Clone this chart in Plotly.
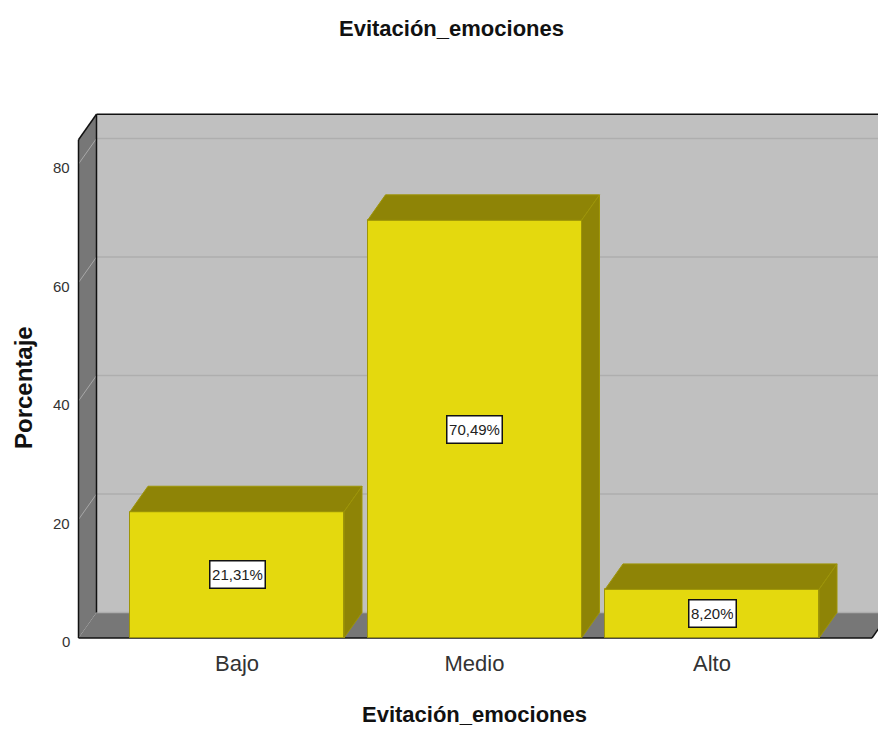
import plotly.graph_objects as go

# Chart content
categories = ["Bajo", "Medio", "Alto"]
percentages = [21.31, 70.49, 8.20]
value_labels = ["21,31%", "70,49%", "8,20%"]
y_ticks = [0, 20, 40, 60, 80]
chart_title = "Evitación_emociones"
x_title = "Evitación_emociones"
y_title = "Porcentaje"

# Colours
BAR_FRONT = "#E4D90E"
BAR_SHADE = "#8E8406"
BAR_EDGE = "#9E9508"
WALL_BACK = "#C0C0C0"
WALL_DARK = "#777777"
GRID_BACK = "#AEAEAE"
GRID_SIDE = "#A8A8A8"
INK = "#111111"
FONT = "Liberation Sans"

# Frame geometry, in pixels of the page
W, H = 878, 729
LEFT, TOP, BOTTOM = 77, 112, 640
ZERO_PX, UNIT_PX = 638, 5.925        # y = 0 baseline and pixels per percent
CENTER_PX, STEP_PX = 237, 237.5      # first category centre and category spacing
AXIS_LEFT_PX = 78.5

x_range = [(LEFT - CENTER_PX) / STEP_PX, (W - CENTER_PX) / STEP_PX]
y_range = [(ZERO_PX - BOTTOM) / UNIT_PX, (ZERO_PX - TOP) / UNIT_PX]

# Depth of the box and of the bars, in axis units
DX, DY = 18 / STEP_PX, 25.5 / UNIT_PX
BAR_WIDTH = 214 / STEP_PX
WALL_X0 = (AXIS_LEFT_PX - CENTER_PX) / STEP_PX
WALL_TOP = 88.4
WALL_X1 = (872 - CENTER_PX) / STEP_PX


def polygon(points, fill, line=None, width=0):
    path = "M " + " L ".join(f"{x},{y}" for x, y in points) + " Z"
    return dict(type="path", path=path, xref="x", yref="y", layer="below",
                fillcolor=fill, line=dict(color=line or fill, width=width))


def segment(x0, y0, x1, y1, color, width=1.0):
    return dict(type="line", x0=x0, y0=y0, x1=x1, y1=y1, xref="x", yref="y",
                layer="below", line=dict(color=color, width=width))


shapes = [
    # back wall, left wall, floor
    polygon([(WALL_X0 + DX, DY), (x_range[1] + 1, DY), (x_range[1] + 1, WALL_TOP),
             (WALL_X0 + DX, WALL_TOP)], WALL_BACK),
    polygon([(WALL_X0, 0), (WALL_X0 + DX, DY), (WALL_X0 + DX, WALL_TOP),
             (WALL_X0, WALL_TOP - DY)], WALL_DARK),
    polygon([(WALL_X0, 0), (WALL_X1, 0), (WALL_X1 + DX, DY), (x_range[1] + 1, DY),
             (WALL_X0 + DX, DY)], WALL_DARK),
]

# Gridlines run along the back wall and slope down the left wall
for tick in y_ticks:
    if tick:
        shapes.append(segment(WALL_X0 + DX, tick + DY, x_range[1] + 1, tick + DY, GRID_BACK, 1.5))
        shapes.append(segment(WALL_X0, tick, WALL_X0 + DX, tick + DY, GRID_SIDE, 1))
shapes.append(segment(WALL_X0 + DX, DY, x_range[1] + 1, DY, GRID_BACK, 1.5))

# Box outline
shapes += [
    segment(WALL_X0, 0, WALL_X1, 0, INK, 1.5),
    segment(WALL_X1, 0, WALL_X1 + DX, DY, INK, 1.5),
    segment(WALL_X0, 0, WALL_X0, WALL_TOP - DY, INK, 1.5),
    segment(WALL_X0 + DX, DY, WALL_X0 + DX, WALL_TOP, INK, 1.5),
    segment(WALL_X0, WALL_TOP - DY, WALL_X0 + DX, WALL_TOP, INK, 1.5),
    segment(WALL_X0 + DX, WALL_TOP, x_range[1] + 1, WALL_TOP, INK, 1.5),
]

fig = go.Figure()
positions = list(range(len(categories)))

# Front faces of the bars
fig.add_trace(go.Bar(
    x=positions, y=percentages, width=BAR_WIDTH,
    marker=dict(color=BAR_FRONT, line=dict(color=BAR_EDGE, width=1)),
    hoverinfo="skip", showlegend=False,
))

# Top and side faces of the bars, offset from each value by the depth
for pos, value in zip(positions, percentages):
    left, right = pos - BAR_WIDTH / 2, pos + BAR_WIDTH / 2
    fig.add_trace(go.Scatter(
        x=[left, right, right + DX, left + DX, left],
        y=[value, value, value + DY, value + DY, value],
        mode="lines", fill="toself", fillcolor=BAR_SHADE,
        line=dict(color=BAR_EDGE, width=1), hoverinfo="skip", showlegend=False,
    ))
    fig.add_trace(go.Scatter(
        x=[right, right + DX, right + DX, right, right],
        y=[0, DY, value + DY, value, 0],
        mode="lines", fill="toself", fillcolor=BAR_SHADE,
        line=dict(color=BAR_EDGE, width=1), hoverinfo="skip", showlegend=False,
    ))

# Value boxes sit halfway up each bar
annotations = [
    dict(x=pos, y=value / 2, xref="x", yref="y", text=label, showarrow=False,
         width=len(label) * 8.5, height=23, align="center", valign="middle",
         bgcolor="white", bordercolor="#111111", borderwidth=1.5, borderpad=1.5,
         font=dict(family=FONT, size=15, color="#222222"))
    for pos, value, label in zip(positions, percentages, value_labels)
]

# Y tick labels hang slightly below their gridline height
annotations += [
    dict(x=0, y=tick, xref="paper", yref="y", text=str(tick), showarrow=False,
         xanchor="right", yanchor="middle", xshift=-5, yshift=-3.5,
         font=dict(family=FONT, size=15, color="#333333"))
    for tick in y_ticks
]


def to_plot(px, py):
    """Page pixels to plot-area fractions."""
    return (px - LEFT) / (W - LEFT), (BOTTOM - py) / (BOTTOM - TOP)


tx, ty = to_plot(474, 714)
annotations.append(dict(x=tx, y=ty, xref="paper", yref="paper", text=f"<b>{x_title}</b>",
                        showarrow=False, font=dict(family=FONT, size=22, color="#111111"),
                        xanchor="center", yanchor="middle"))
tx, ty = to_plot(23, 388)
annotations.append(dict(x=tx, y=ty, xref="paper", yref="paper", text=f"<b>{y_title}</b>",
                        textangle=-90, showarrow=False,
                        font=dict(family=FONT, size=24, color="#111111"),
                        xanchor="center", yanchor="middle"))

fig.update_layout(
    width=W, height=H, autosize=False,
    margin=dict(l=LEFT, r=0, t=TOP, b=H - BOTTOM, pad=0),
    paper_bgcolor="white", plot_bgcolor="white",
    title=dict(text=f"<b>{chart_title}</b>", x=451.5 / W, y=1 - 28 / H,
               xanchor="center", yanchor="middle",
               font=dict(family=FONT, size=22, color="#111111")),
    shapes=shapes, annotations=annotations, showlegend=False, bargap=0,
    xaxis=dict(range=x_range, tickmode="array", tickvals=positions, ticktext=categories,
               showgrid=False, zeroline=False, showline=False, ticks="",
               ticklabelstandoff=8, tickfont=dict(family=FONT, size=22, color="#333333")),
    yaxis=dict(range=y_range, tickmode="array", tickvals=y_ticks, showticklabels=False,
               showgrid=False, zeroline=False, showline=False, ticks=""),
)

fig.write_html("out.html", config=dict(displayModeBar=False))
